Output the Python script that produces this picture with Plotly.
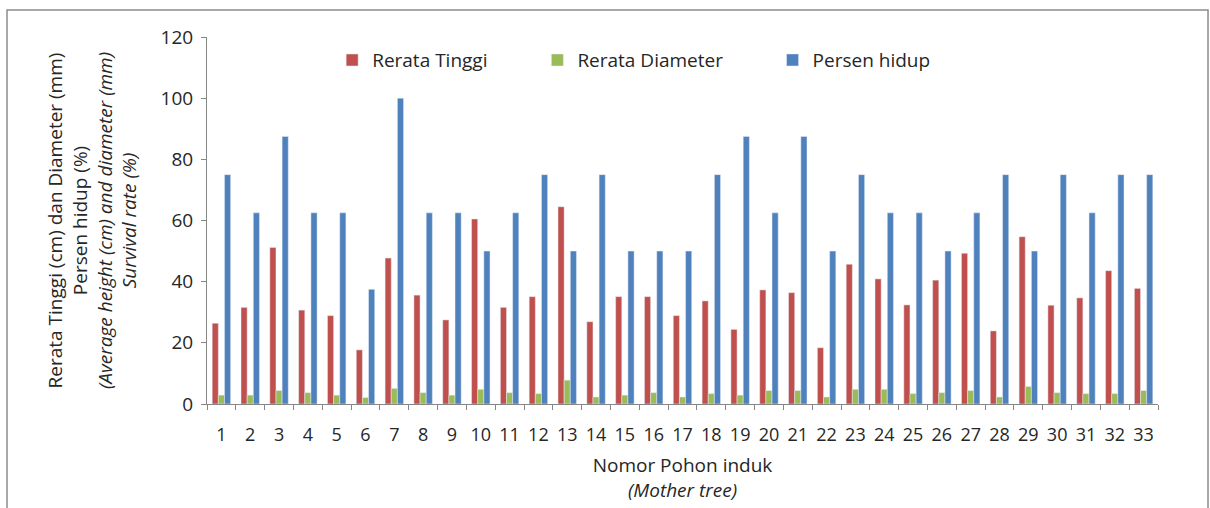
import plotly.graph_objects as go

categories = [str(i) for i in range(1, 34)]
rerata_tinggi = [26.4, 31.6, 51.2, 30.7, 28.9, 17.7, 47.7, 35.6, 27.5, 60.5,
                 31.6, 35.1, 64.5, 26.9, 35.1, 35.1, 28.9, 33.7, 24.4, 37.3,
                 36.4, 18.4, 45.7, 40.9, 32.4, 40.5, 49.3, 23.9, 54.7, 32.3,
                 34.7, 43.6, 37.8]
rerata_diameter = [2.9, 2.9, 4.4, 3.7, 2.9, 2.1, 5.1, 3.7, 2.9, 4.8,
                   3.7, 3.4, 7.8, 2.3, 2.9, 3.7, 2.3, 3.4, 2.9, 4.4,
                   4.4, 2.3, 4.8, 4.8, 3.4, 3.7, 4.4, 2.3, 5.7, 3.7,
                   3.4, 3.4, 4.4]
persen_hidup = [75, 62.5, 87.5, 62.5, 62.5, 37.5, 100, 62.5, 62.5, 50,
                62.5, 75, 50, 75, 50, 50, 50, 75, 87.5, 62.5,
                87.5, 50, 75, 62.5, 62.5, 50, 62.5, 75, 50, 75,
                62.5, 75, 75]
y_ticks = [0, 20, 40, 60, 80, 100, 120]

FONT = "'Open Sans', Lato, 'Liberation Sans', sans-serif"
AXIS_COLOR = "#868686"
TEXT = "#262626"

fig = go.Figure()
fig.add_trace(go.Bar(x=categories, y=rerata_tinggi, name="Rerata Tinggi",
                     marker=dict(color="#C0504D"), legend="legend"))
fig.add_trace(go.Bar(x=categories, y=rerata_diameter, name="Rerata Diameter",
                     marker=dict(color="#9BBB59"), legend="legend2"))
fig.add_trace(go.Bar(x=categories, y=persen_hidup, name="Persen hidup",
                     marker=dict(color="#4F81BD"), legend="legend3"))

leg_common = dict(orientation="h", y=0.937, xanchor="left", yanchor="middle",
                  font=dict(family=FONT, size=19, color=TEXT),
                  bgcolor="rgba(0,0,0,0)")

fig.update_layout(
    width=1210, height=508,
    barmode="group", bargap=0.36, bargroupgap=0,
    paper_bgcolor="white", plot_bgcolor="white",
    font=dict(family=FONT, size=18, color=TEXT),
    margin=dict(l=207, r=52, t=37, b=104, autoexpand=False),
    showlegend=True,
    legend=dict(x=0.1316, **leg_common),
    legend2=dict(x=0.3474, **leg_common),
    legend3=dict(x=0.5947, **leg_common),
    shapes=[dict(type="rect", xref="paper", yref="paper",
                 x0=-0.2103, x1=1.0526, y0=-0.4, y1=1.0736,
                 line=dict(color="#8c8c8c", width=1.5), layer="below")],
)

fig.update_xaxes(
    type="category", showgrid=False, showline=True, linecolor=AXIS_COLOR, linewidth=1,
    ticks="outside", tickson="boundaries", ticklen=5, tickcolor=AXIS_COLOR,
    ticklabelstandoff=14, tickangle=0,
    tickfont=dict(family=FONT, size=18, color=TEXT),
    title=dict(text="Nomor Pohon induk<br><i>(Mother tree)</i>",
               font=dict(family=FONT, size=19, color=TEXT), standoff=14),
)
fig.update_yaxes(
    range=[0, 120], tickvals=y_ticks, showgrid=False, zeroline=False,
    showline=True, linecolor=AXIS_COLOR, linewidth=1,
    ticks="outside", ticklen=5, tickcolor=AXIS_COLOR,
    ticklabelstandoff=4,
    tickfont=dict(family=FONT, size=19, color=TEXT),
    title=dict(text="Rerata Tinggi (cm) dan Diameter (mm)<br>Persen hidup (%)<br>"
                    "<i>(Average height (cm) and diameter (mm)</i><br><i>Survival rate (%)</i>",
               font=dict(family=FONT, size=19, color=TEXT), standoff=18),
)

fig.write_html("out.html",
               config={"displayModeBar": False},
               post_script="document.body.style.margin='0px';"
                           "document.body.style.overflow='hidden';")
